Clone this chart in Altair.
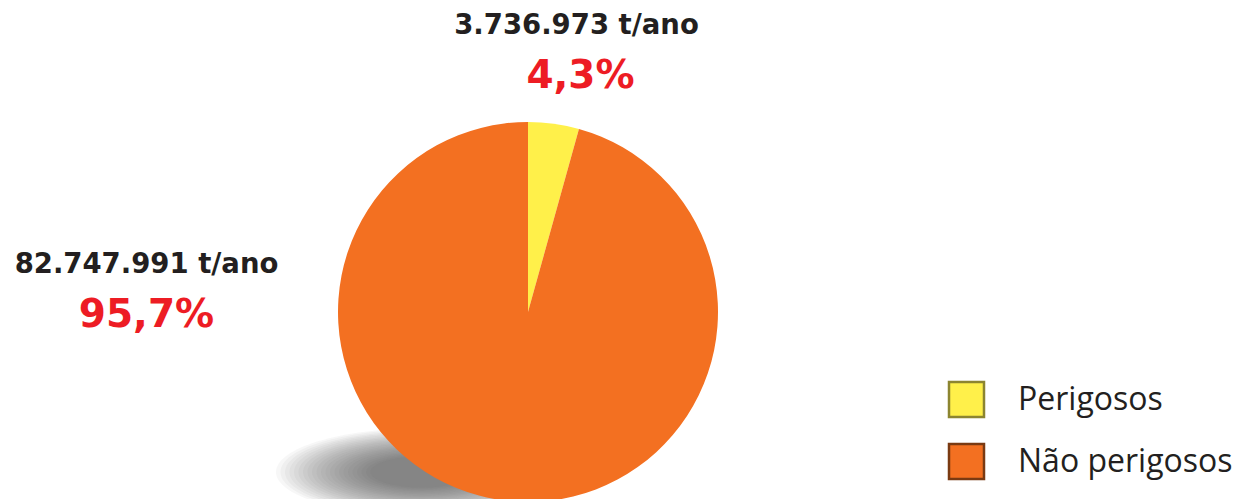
import altair as alt
import pandas as pd

categories = ["Perigosos", "Não perigosos"]
tonnes = [3736973, 82747991]
percents = [4.3, 95.7]
colors = ["#FFF04A", "#F37021"]
borders = ["#8C8530", "#7A3A12"]

def fmt_t(v):
    return f"{v:,}".replace(",", ".") + " t/ano"

def fmt_p(p):
    return f"{p:.1f}".replace(".", ",") + "%"

df = pd.DataFrame({
    "categoria": categories,
    "toneladas": tonnes,
    "pct": percents,
    "ordem": [0, 1],
    "lab_t": [fmt_t(v) for v in tonnes],
    "lab_p": [fmt_p(p) for p in percents],
})

CX, CY, R = 520, 304, 190

base = alt.Chart(df)

# soft shadow under the pie
shadow_path = "M -1 0 A 1 0.3 0 1 0 1 0 A 1 0.3 0 1 0 -1 0 Z"
shadow_layers = []
n = 22
for i in range(n):
    w = 292 - i * 9
    shadow_layers.append(
        alt.Chart(pd.DataFrame({"k": [0]})).mark_point(
            shape=shadow_path, filled=True, color="#4a4d50", opacity=0.045,
            size=w * w, strokeWidth=0
        ).encode(x=alt.value(414), y=alt.value(464))
    )

color_scale = alt.Scale(domain=categories, range=colors)
stroke_scale = alt.Scale(domain=categories, range=borders)

pie = base.mark_arc(radius=R, stroke=None).encode(
    theta=alt.Theta("toneladas:Q", stack=True),
    color=alt.Color("categoria:N", scale=color_scale, legend=None),
    order=alt.Order("ordem:Q"),
    x=alt.value(CX), y=alt.value(CY),
)

leg_y = alt.Y("categoria:N",
              scale=alt.Scale(type="point", padding=0, domain=categories, range=[391.5, 453.5]),
              axis=None)
leg_sym = base.mark_square(size=1225, filled=True, strokeWidth=2.5, opacity=1).encode(
    x=alt.value(958.5), y=leg_y,
    fill=alt.Fill("categoria:N", scale=color_scale, legend=None),
    stroke=alt.Stroke("categoria:N", scale=stroke_scale, legend=None),
)
leg_txt = base.mark_text(font="Open Sans", fontSize=32, color="#231F20",
                         align="left", baseline="middle").encode(
    x=alt.value(1010), y=leg_y, text="categoria:N")

def labels(cat, x1, y1, x2, y2):
    b = base.transform_filter(alt.datum.categoria == cat)
    t1 = b.mark_text(font="DejaVu Sans", fontWeight="bold", fontSize=27.5,
                     color="#231F20", align="center", baseline="middle").encode(
        text="lab_t:N", x=alt.value(x1), y=alt.value(y1))
    t2 = b.mark_text(font="DejaVu Sans", fontWeight="bold", fontSize=39,
                     color="#ED1C24", align="center", baseline="middle").encode(
        text="lab_p:N", x=alt.value(x2), y=alt.value(y2))
    return t1 + t2

chart = alt.layer(
    *shadow_layers, pie, leg_sym, leg_txt,
    labels("Perigosos", 568.5, 18, 572.5, 68),
    labels("Não perigosos", 138.5, 257, 138.5, 307),
).resolve_scale(y="independent").properties(
    width=1224, height=491, padding=0,
    autosize=alt.AutoSizeParams(type="none"),
    background="white",
).configure_view(stroke=None)

chart.save("out.html", embed_options={"renderer": "svg", "actions": False})
